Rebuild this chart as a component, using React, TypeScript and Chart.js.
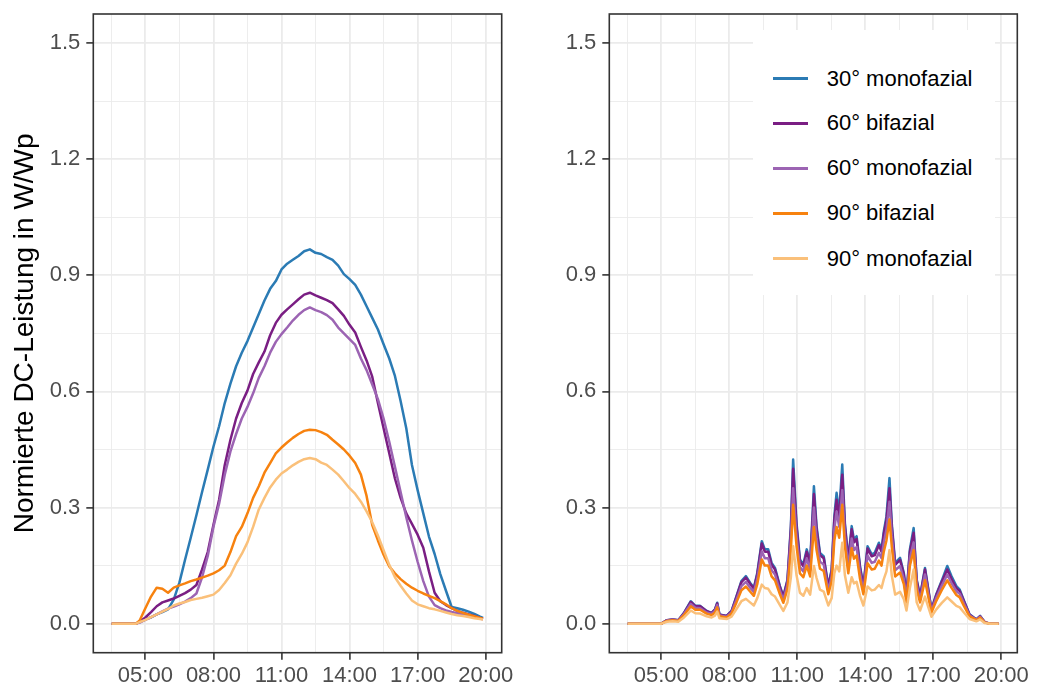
import React, { useEffect, useRef } from "react";
import { Chart, registerables } from "chart.js";

Chart.register(...registerables);

const FONT = "'Liberation Sans', Arial, Helvetica, sans-serif";

const SERIES_NAMES = ["30° monofazial", "60° bifazial", "60° monofazial", "90° bifazial", "90° monofazial"];
const SERIES_COLORS = ["#2B7BB4", "#7A1E83", "#9C64B3", "#F7820F", "#FAC07A"];
const SERIES_ORDER = [4, 3, 2, 1, 0];

const Y_TITLE = "Normierte DC-Leistung in W/Wp";

// x axis (hours) and y axis ticks
const X_MAJOR = [5, 8, 11, 14, 17, 20];
const X_LABELS = ["05:00", "08:00", "11:00", "14:00", "17:00", "20:00"];
const X_MINOR = [3.5, 6.5, 9.5, 12.5, 15.5, 18.5];
const Y_MAJOR = [0, 0.3, 0.6, 0.9, 1.2, 1.5];
const Y_LABELS = ["0.0", "0.3", "0.6", "0.9", "1.2", "1.5"];
const Y_MINOR = [0.15, 0.45, 0.75, 1.05, 1.35];
const X_MIN = 2.706;
const X_MAX = 20.706;
const Y_MIN = -0.075;
const Y_MAX = 1.575;

// ---------- left panel (clear day) ----------
const L_TIMES = [
  "03:31", "04:00", "04:35", "04:45",
  "05:00", "05:15", "05:30", "05:45",
  "06:00", "06:15", "06:30", "06:45",
  "07:00", "07:15", "07:30", "07:45",
  "08:00", "08:15", "08:30", "08:45",
  "09:00", "09:15", "09:30", "09:45",
  "10:00", "10:15", "10:30", "10:45",
  "11:00", "11:15", "11:30", "11:45",
  "12:00", "12:15", "12:30", "12:45",
  "13:00", "13:15", "13:30", "13:45",
  "14:00", "14:15", "14:30", "14:45",
  "15:00", "15:15", "15:30", "15:45",
  "16:00", "16:15", "16:30", "16:45",
  "17:00", "17:15", "17:30", "17:45",
  "18:00", "18:15", "18:30", "18:45",
  "19:00", "19:15", "19:30", "19:45",
  "19:53",
];
const L_MONO30 = [
  0, 0, 0, 0.004,
  0.011, 0.016, 0.024, 0.03,
  0.037, 0.062, 0.106, 0.165,
  0.222, 0.28, 0.34, 0.398,
  0.457, 0.51, 0.57, 0.62,
  0.665, 0.70, 0.73, 0.765,
  0.80, 0.835, 0.865, 0.885,
  0.915, 0.93, 0.94, 0.95,
  0.962, 0.967, 0.958, 0.955,
  0.947, 0.94, 0.925, 0.903,
  0.89, 0.875, 0.85, 0.82,
  0.79, 0.76, 0.722, 0.685,
  0.64, 0.575, 0.505, 0.41,
  0.345, 0.285, 0.225, 0.18,
  0.128, 0.085, 0.043, 0.04,
  0.036, 0.031, 0.025, 0.018,
  0.015,
];
const L_BI60 = [
  0, 0, 0, 0.005,
  0.016, 0.03, 0.045, 0.055,
  0.06, 0.065, 0.072, 0.079,
  0.088, 0.1, 0.14, 0.185,
  0.255, 0.32, 0.41, 0.475,
  0.53, 0.57, 0.602, 0.645,
  0.675, 0.703, 0.745, 0.777,
  0.798, 0.812, 0.825, 0.838,
  0.85, 0.855, 0.848, 0.842,
  0.836, 0.828, 0.812, 0.795,
  0.772, 0.752, 0.715, 0.68,
  0.638, 0.57, 0.505, 0.44,
  0.375, 0.325, 0.285, 0.258,
  0.23, 0.196, 0.135, 0.08,
  0.058, 0.048, 0.04, 0.033,
  0.028, 0.024, 0.02, 0.015,
  0.013,
];
const L_MONO60 = [
  0, 0, 0, 0.003,
  0.01, 0.017, 0.024, 0.032,
  0.039, 0.044, 0.05, 0.057,
  0.066, 0.078, 0.12, 0.175,
  0.25, 0.31, 0.385, 0.445,
  0.49, 0.53, 0.56, 0.595,
  0.635, 0.665, 0.70, 0.728,
  0.748, 0.765, 0.783, 0.798,
  0.81, 0.817, 0.81, 0.805,
  0.797, 0.785, 0.765, 0.75,
  0.735, 0.72, 0.685, 0.655,
  0.618, 0.58, 0.53, 0.47,
  0.405, 0.34, 0.275, 0.215,
  0.16, 0.11, 0.07, 0.048,
  0.04, 0.034, 0.03, 0.027,
  0.024, 0.021, 0.017, 0.013,
  0.011,
];
const L_BI90 = [
  0, 0, 0, 0.008,
  0.04, 0.07, 0.093, 0.09,
  0.08, 0.093, 0.099, 0.104,
  0.11, 0.114, 0.119, 0.124,
  0.13, 0.138, 0.15, 0.185,
  0.226, 0.25, 0.285, 0.325,
  0.355, 0.39, 0.415, 0.44,
  0.455, 0.468, 0.48, 0.49,
  0.498, 0.501, 0.5, 0.495,
  0.488, 0.475, 0.463, 0.45,
  0.434, 0.415, 0.385, 0.33,
  0.255, 0.215, 0.178, 0.148,
  0.13, 0.115, 0.103, 0.093,
  0.085, 0.078, 0.072, 0.066,
  0.058, 0.05, 0.04, 0.033,
  0.028, 0.023, 0.019, 0.015,
  0.013,
];
const L_MONO90 = [
  0, 0, 0, 0.004,
  0.01, 0.017, 0.024, 0.031,
  0.038, 0.047, 0.052, 0.056,
  0.061, 0.064, 0.067, 0.071,
  0.075, 0.087, 0.105, 0.125,
  0.155, 0.18, 0.21, 0.25,
  0.295, 0.325, 0.352, 0.372,
  0.388, 0.398, 0.409, 0.418,
  0.425, 0.428, 0.425, 0.416,
  0.41, 0.398, 0.385, 0.368,
  0.35, 0.335, 0.315, 0.29,
  0.262, 0.228, 0.19, 0.152,
  0.12, 0.098, 0.078, 0.06,
  0.05, 0.045, 0.04, 0.037,
  0.033, 0.029, 0.025, 0.022,
  0.02, 0.017, 0.014, 0.012,
  0.011,
];

// ---------- right panel (cloudy day) ----------
const R_TIMES = [
  "03:31", "05:00", "05:15", "05:30", "05:45", "06:00", "06:18", "06:30", "06:43", "07:00",
  "07:13", "07:22", "07:28", "07:34", "07:53", "08:06", "08:19", "08:32", "08:44", "08:55",
  "09:05", "09:14", "09:26", "09:34", "09:43", "09:52", "10:01", "10:14", "10:23", "10:34",
  "10:43", "10:49", "10:58", "11:07", "11:16", "11:25", "11:34", "11:44", "11:51", "12:00",
  "12:10", "12:22", "12:31", "12:38", "12:44", "12:51", "12:59", "13:06", "13:15", "13:24",
  "13:30", "13:37", "13:46", "13:55", "14:06", "14:17", "14:25", "14:36", "14:43", "14:49",
  "14:56", "15:04", "15:10", "15:19", "15:32", "15:42", "15:49", "15:58", "16:08", "16:16",
  "16:25", "16:38", "16:47", "16:55", "17:08", "17:22", "17:37", "17:48", "18:01", "18:10",
  "18:21", "18:36", "18:54", "19:04", "19:16", "19:30", "19:53",
];
const R_MONO30 = [
  0, 0, 0.009, 0.011, 0.009, 0.028, 0.058, 0.046, 0.046, 0.033,
  0.028, 0.037, 0.054, 0.024, 0.02, 0.033, 0.071, 0.11, 0.123, 0.106,
  0.093, 0.131, 0.213, 0.192, 0.192, 0.157, 0.144, 0.097, 0.071, 0.114,
  0.252, 0.424, 0.26, 0.166, 0.153, 0.192, 0.157, 0.355, 0.252, 0.183,
  0.174, 0.097, 0.14, 0.277, 0.338, 0.286, 0.411, 0.26, 0.166, 0.252,
  0.217, 0.226, 0.149, 0.097, 0.2, 0.179, 0.183, 0.209, 0.192, 0.239,
  0.277, 0.376, 0.26, 0.157, 0.17, 0.131, 0.071, 0.192, 0.247, 0.114,
  0.071, 0.144, 0.088, 0.037, 0.076, 0.11, 0.149, 0.123, 0.097, 0.088,
  0.06, 0.024, 0.011, 0.02, 0.004, 0, 0,
];
const R_BI60 = [
  0, 0, 0.009, 0.011, 0.009, 0.027, 0.056, 0.045, 0.045, 0.032,
  0.027, 0.036, 0.052, 0.023, 0.02, 0.032, 0.069, 0.107, 0.119, 0.103,
  0.09, 0.127, 0.207, 0.186, 0.186, 0.152, 0.14, 0.094, 0.069, 0.111,
  0.244, 0.40, 0.25, 0.161, 0.148, 0.186, 0.152, 0.335, 0.244, 0.177,
  0.169, 0.094, 0.136, 0.268, 0.32, 0.277, 0.385, 0.252, 0.161, 0.244,
  0.21, 0.219, 0.144, 0.094, 0.194, 0.174, 0.177, 0.203, 0.186, 0.232,
  0.268, 0.35, 0.252, 0.152, 0.165, 0.127, 0.069, 0.186, 0.235, 0.111,
  0.069, 0.14, 0.085, 0.036, 0.074, 0.107, 0.14, 0.116, 0.092, 0.084,
  0.058, 0.023, 0.011, 0.019, 0.004, 0, 0,
];
const R_MONO60 = [
  0, 0, 0.008, 0.01, 0.008, 0.025, 0.051, 0.041, 0.04, 0.029,
  0.025, 0.033, 0.048, 0.021, 0.018, 0.029, 0.062, 0.097, 0.108, 0.093,
  0.082, 0.115, 0.187, 0.169, 0.169, 0.138, 0.127, 0.085, 0.062, 0.1,
  0.22, 0.35, 0.225, 0.146, 0.135, 0.169, 0.138, 0.30, 0.22, 0.16,
  0.153, 0.085, 0.123, 0.243, 0.29, 0.25, 0.345, 0.228, 0.146, 0.22,
  0.19, 0.198, 0.131, 0.085, 0.176, 0.157, 0.16, 0.183, 0.169, 0.21,
  0.243, 0.315, 0.228, 0.138, 0.149, 0.115, 0.062, 0.169, 0.21, 0.1,
  0.062, 0.127, 0.077, 0.033, 0.067, 0.097, 0.127, 0.105, 0.084, 0.077,
  0.052, 0.021, 0.01, 0.018, 0.004, 0, 0,
];
const R_BI90 = [
  0, 0, 0.007, 0.009, 0.007, 0.022, 0.045, 0.036, 0.036, 0.026,
  0.022, 0.029, 0.042, 0.019, 0.016, 0.026, 0.055, 0.086, 0.096, 0.083,
  0.072, 0.102, 0.166, 0.15, 0.15, 0.122, 0.112, 0.076, 0.054, 0.089,
  0.19, 0.307, 0.2, 0.13, 0.12, 0.15, 0.122, 0.25, 0.19, 0.142,
  0.136, 0.076, 0.109, 0.215, 0.25, 0.222, 0.307, 0.2, 0.13, 0.195,
  0.168, 0.176, 0.116, 0.076, 0.156, 0.14, 0.142, 0.163, 0.15, 0.186,
  0.215, 0.269, 0.2, 0.122, 0.132, 0.102, 0.055, 0.15, 0.19, 0.089,
  0.055, 0.112, 0.068, 0.029, 0.059, 0.086, 0.112, 0.093, 0.074, 0.068,
  0.046, 0.019, 0.009, 0.016, 0.003, 0, 0,
];
const R_MONO90 = [
  0, 0, 0.005, 0.006, 0.005, 0.016, 0.034, 0.027, 0.026, 0.019,
  0.016, 0.021, 0.031, 0.014, 0.012, 0.018, 0.038, 0.058, 0.064, 0.055,
  0.047, 0.066, 0.101, 0.092, 0.09, 0.076, 0.07, 0.048, 0.033, 0.055,
  0.12, 0.2, 0.125, 0.08, 0.072, 0.092, 0.075, 0.149, 0.118, 0.088,
  0.083, 0.047, 0.066, 0.13, 0.15, 0.135, 0.209, 0.125, 0.08, 0.12,
  0.104, 0.108, 0.072, 0.047, 0.096, 0.086, 0.088, 0.1, 0.092, 0.115,
  0.135, 0.19, 0.125, 0.075, 0.082, 0.063, 0.034, 0.092, 0.14, 0.055,
  0.034, 0.07, 0.042, 0.018, 0.037, 0.053, 0.068, 0.058, 0.046, 0.042,
  0.029, 0.012, 0.006, 0.011, 0.002, 0, 0,
];

const L_SERIES = [L_MONO30, L_BI60, L_MONO60, L_BI90, L_MONO90];
const R_SERIES = [R_MONO30, R_BI60, R_MONO60, R_BI90, R_MONO90];

const toHours = (s: string) => {
  const [h, m] = s.split(":").map(Number);
  return h + m / 60;
};
const near = (a: number, b: number) => Math.abs(a - b) < 1e-6;
const isMajorX = (v: number) => X_MAJOR.some((m) => near(m, v));
const isMajorY = (v: number) => Y_MAJOR.some((m) => near(m, v));

const borderPlugin = {
  id: "panelBorder",
  afterDraw(chart: any) {
    const { ctx, chartArea } = chart;
    const { left, top, right, bottom } = chartArea;
    ctx.save();
    ctx.strokeStyle = "#333333";
    ctx.lineWidth = 1.6;
    ctx.strokeRect(left, top, right - left, bottom - top);
    ctx.restore();
  },
};

function buildConfig(times: string[], series: number[][], yWidth: number, padRight: number, showTitle: boolean): any {
  const xs = times.map(toHours);
  const datasets = series.map((vals, i) => ({
    label: SERIES_NAMES[i],
    data: vals.map((v, j) => ({ x: xs[j], y: v })),
    borderColor: SERIES_COLORS[i],
    backgroundColor: SERIES_COLORS[i],
    borderWidth: 2.5,
    pointRadius: 0,
    tension: 0,
    fill: false,
    borderJoinStyle: "round",
    order: SERIES_ORDER[i],
  }));
  const xTicks = [...X_MAJOR, ...X_MINOR].sort((a, b) => a - b);
  const yTicks = [...Y_MAJOR, ...Y_MINOR].sort((a, b) => a - b);
  return {
    type: "line",
    data: { datasets },
    plugins: [borderPlugin],
    options: {
      responsive: false,
      maintainAspectRatio: false,
      animation: false,
      devicePixelRatio: 1,
      layout: { padding: { left: 0, right: padRight, top: 14, bottom: 0 } },
      plugins: { legend: { display: false }, tooltip: { enabled: false } },
      scales: {
        x: {
          type: "linear",
          min: X_MIN,
          max: X_MAX,
          bounds: "data",
          afterBuildTicks: (s: any) => {
            s.ticks = xTicks.map((v) => ({ value: v }));
          },
          afterFit: (s: any) => {
            s.height = 34.3;
            s.paddingLeft = 0;
            s.paddingRight = 0;
          },
          ticks: {
            autoSkip: false,
            maxRotation: 0,
            minRotation: 0,
            padding: 3,
            color: "#4D4D4D",
            font: { family: FONT, size: 22 },
            callback: (v: number) => {
              const i = X_MAJOR.findIndex((m) => near(m, v));
              return i >= 0 ? X_LABELS[i] : "";
            },
          },
          grid: {
            color: "#EBEBEB",
            lineWidth: (c: any) => (c.tick && isMajorX(c.tick.value) ? 1.8 : 0.9),
            tickLength: 7,
            tickWidth: 1.6,
            tickColor: (c: any) => (c.tick && isMajorX(c.tick.value) ? "#333333" : "rgba(0,0,0,0)"),
          },
          border: { display: false },
        },
        y: {
          type: "linear",
          min: Y_MIN,
          max: Y_MAX,
          bounds: "data",
          afterBuildTicks: (s: any) => {
            s.ticks = yTicks.map((v) => ({ value: v }));
          },
          afterFit: (s: any) => {
            s.width = yWidth;
            s.paddingTop = 0;
            s.paddingBottom = 0;
          },
          ticks: {
            autoSkip: false,
            padding: 6,
            color: "#4D4D4D",
            font: { family: FONT, size: 22 },
            callback: (v: number) => {
              const i = Y_MAJOR.findIndex((m) => near(m, v));
              return i >= 0 ? Y_LABELS[i] : "";
            },
          },
          grid: {
            color: "#EBEBEB",
            lineWidth: (c: any) => (c.tick && isMajorY(c.tick.value) ? 1.8 : 0.9),
            tickLength: 7,
            tickWidth: 1.6,
            tickColor: (c: any) => (c.tick && isMajorY(c.tick.value) ? "#333333" : "rgba(0,0,0,0)"),
          },
          border: { display: false },
          title: {
            display: showTitle,
            text: Y_TITLE,
            color: "#000000",
            font: { family: FONT, size: 28 },
            padding: { top: 8, bottom: 0 },
          },
        },
      },
    },
  };
}

const LEGEND_ROWS_Y = [78.6, 123.2, 168.3, 213.4, 258.5];

export default function App() {
  const leftRef = useRef<HTMLCanvasElement | null>(null);
  const rightRef = useRef<HTMLCanvasElement | null>(null);

  useEffect(() => {
    const a = new Chart(leftRef.current as HTMLCanvasElement, buildConfig(L_TIMES, L_SERIES, 93.3, 18.3, true));
    const b = new Chart(rightRef.current as HTMLCanvasElement, buildConfig(R_TIMES, R_SERIES, 89.3, 22.7, false));
    return () => {
      a.destroy();
      b.destroy();
    };
  }, []);

  return (
    <div style={{ position: "absolute", left: 0, top: 0, width: 1040, height: 687, background: "#ffffff", fontFamily: FONT }}>
      <canvas ref={leftRef} width={520} height={687} style={{ position: "absolute", left: 0, top: 0, width: 520, height: 687 }} />
      <canvas ref={rightRef} width={520} height={687} style={{ position: "absolute", left: 520, top: 0, width: 520, height: 687 }} />
      <div style={{ position: "absolute", left: 753, top: 30, width: 242, height: 265, background: "#ffffff" }} />
      {SERIES_NAMES.map((name, i) => (
        <React.Fragment key={name}>
          <div
            style={{
              position: "absolute",
              left: 772.7,
              top: LEGEND_ROWS_Y[i] - 1.5,
              width: 35,
              height: 3,
              background: SERIES_COLORS[i],
            }}
          />
          <div
            style={{
              position: "absolute",
              left: 826.7,
              top: LEGEND_ROWS_Y[i] - 15,
              height: 30,
              lineHeight: "30px",
              fontSize: 22,
              color: "#000000",
              whiteSpace: "nowrap",
              fontFamily: FONT,
            }}
          >
            {name}
          </div>
        </React.Fragment>
      ))}
    </div>
  );
}
